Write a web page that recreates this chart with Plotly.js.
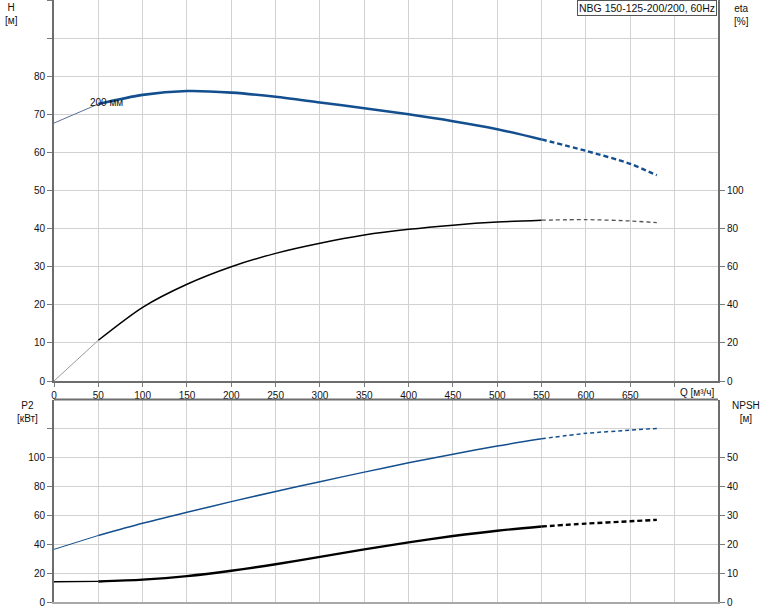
<!DOCTYPE html>
<html>
<head>
<meta charset="utf-8">
<script src="https://cdn.plot.ly/plotly-3.0.1.min.js"></script>
<style>html,body{margin:0;padding:0;background:#fff;}#chart{width:774px;height:611px;}</style>
</head>
<body>
<div id="chart"></div>
<script>
// ---- data ----
const Q     = [0, 50, 100, 150, 200, 250, 300, 350, 400, 450, 500, 550, 600, 650, 680];
const H     = [67.7, 72.7, 75.1, 76.1, 75.7, 74.6, 73.1, 71.6, 70.0, 68.2, 66.1, 63.4, 60.4, 57.0, 54.0];
const ETA   = [0, 21.4, 38.7, 50.8, 60.0, 67.0, 72.3, 76.6, 79.6, 81.8, 83.4, 84.4, 84.7, 84.0, 83.1];
const P2    = [14.0, 14.2, 15.5, 17.9, 21.6, 26.1, 31.2, 36.4, 41.2, 45.6, 49.3, 52.2, 54.2, 55.8, 56.8];
const NPSH  = [18.2, 23.0, 27.2, 31.0, 34.7, 38.2, 41.6, 44.9, 48.1, 51.1, 53.9, 56.4, 58.3, 59.4, 60.0];
const xTickVals = [0, 50, 100, 150, 200, 250, 300, 350, 400, 450, 500, 550, 600, 650, 700];
const xTickText = ["0", "50", "100", "150", "200", "250", "300", "350", "400", "450", "500", "550", "600", "650", ""];
const hTickVals = [0, 10, 20, 30, 40, 50, 60, 70, 80, 90, 100];
const hTickText = ["0", "10", "20", "30", "40", "50", "60", "70", "80", "", ""];
const etaTickVals = [0, 20, 40, 60, 80, 100];
const p2TickVals = [0, 20, 40, 60, 80, 100, 120];
const p2TickText = ["0", "20", "40", "60", "80", "100", ""];
const npshTickVals = [0, 10, 20, 30, 40, 50];
const curveLabel = "200 мм";
const chartTitle = "NBG 150-125-200/200, 60Hz";

// ---- helpers ----
function seg(ys, lo, hi) {
  const xs = [], vs = [];
  Q.forEach((q, i) => { if (q >= lo && q <= hi) { xs.push(q); vs.push(ys[i]); } });
  return {x: xs, y: vs};
}
const L = 54, R = 56, T = 0, B = 9, W = 774 - L - R, PH = 611 - T - B;
const px = x => (x - L) / W;
const py = y => (PH + T - y) / PH;

const blue = "#134f8e", grid = "#d2d2d2", axis = "#7a7a7a";
const font = {family: "Liberation Sans, Arial, sans-serif", size: 10, color: "#111"};

function tr(ys, lo, hi, xa, ya, color, width, dash) {
  const s = seg(ys, lo, hi);
  return {x: s.x, y: s.y, xaxis: xa, yaxis: ya, type: "scatter", mode: "lines",
    line: {color: color, width: width, dash: dash || "solid", shape: "spline", smoothing: 0.8},
    hoverinfo: "skip", showlegend: false};
}

const data = [
  tr(H, 0, 50, "x", "y", "#5a6f95", 1),
  tr(H, 50, 550, "x", "y", blue, 2.6),
  tr(H, 550, 680, "x", "y", blue, 2.4, "5px,3px"),
  tr(ETA, 0, 50, "x", "y2", "#999", 1),
  tr(ETA, 50, 550, "x", "y2", "#000", 1.5),
  tr(ETA, 550, 680, "x", "y2", "#555", 1.3, "4px,3px"),
  tr(P2, 0, 50, "x2", "y3", "#000", 1.3),
  tr(P2, 50, 550, "x2", "y3", "#000", 2.4),
  tr(P2, 550, 680, "x2", "y3", "#000", 2.4, "5px,3px"),
  tr(NPSH, 0, 50, "x2", "y4", blue, 1),
  tr(NPSH, 50, 550, "x2", "y4", blue, 1.5),
  tr(NPSH, 550, 680, "x2", "y4", blue, 1.5, "4px,3px")
];

const topDom = [py(381), 1];
const botDom = [0, py(399.5)];

const xCommon = {range: [0, 749], tickvals: xTickVals, showgrid: true, gridcolor: grid, gridwidth: 1,
  zeroline: false, showline: true, ticks: "outside", ticklen: 4, tickcolor: axis, fixedrange: true};

const layout = {
  width: 774, height: 611,
  margin: {l: L, r: R, t: T, b: B, pad: 0},
  paper_bgcolor: "#fff", plot_bgcolor: "#fff",
  font: font, showlegend: false,
  xaxis: Object.assign({}, xCommon, {anchor: "y", domain: [0, 1], ticktext: xTickText,
    linecolor: "#6d6d6d", linewidth: 2, tickfont: font}),
  xaxis2: Object.assign({}, xCommon, {anchor: "y3", domain: [0, 1], showticklabels: false,
    linecolor: "#a8a8a8", linewidth: 2, ticks: "", mirror: false}),
  yaxis: {domain: topDom, anchor: "x", range: [0, 100], tickvals: hTickVals, ticktext: hTickText,
    showgrid: true, gridcolor: grid, zeroline: false, showline: true, linecolor: "#6d6d6d", linewidth: 2,
    ticks: "outside", ticklen: 5, tickcolor: axis, tickfont: font, fixedrange: true},
  yaxis2: {domain: topDom, anchor: "x", overlaying: "y", side: "right", range: [0, 200],
    tickvals: etaTickVals, showgrid: false, zeroline: false, showline: true, linecolor: "#6d6d6d", linewidth: 2,
    ticks: "outside", ticklen: 5, tickcolor: axis, tickfont: font, fixedrange: true},
  yaxis3: {domain: botDom, anchor: "x2", range: [0, 140], tickvals: p2TickVals, ticktext: p2TickText,
    showgrid: true, gridcolor: grid, zeroline: false, showline: true, linecolor: "#6d6d6d", linewidth: 2,
    ticks: "outside", ticklen: 5, tickcolor: axis, tickfont: font, fixedrange: true},
  yaxis4: {domain: botDom, anchor: "x2", overlaying: "y3", side: "right", range: [0, 70],
    tickvals: npshTickVals, showgrid: false, zeroline: false, showline: true, linecolor: "#6d6d6d", linewidth: 2,
    ticks: "outside", ticklen: 5, tickcolor: axis, tickfont: font, fixedrange: true},
  shapes: [
    {type: "line", xref: "paper", yref: "paper", x0: 0, x1: 1, y0: py(399.5), y1: py(399.5),
      line: {color: "#6d6d6d", width: 2}}
  ],
  annotations: [
    {xref: "paper", yref: "paper", x: px(11), y: py(0), xanchor: "center", yanchor: "top",
      text: "H<br>[м]", showarrow: false, font: font},
    {xref: "paper", yref: "paper", x: px(741), y: py(1), xanchor: "center", yanchor: "top",
      text: "eta<br>[%]", showarrow: false, font: font},
    {xref: "paper", yref: "paper", x: px(27), y: py(398), xanchor: "center", yanchor: "top",
      text: "P2<br>[кВт]", showarrow: false, font: font},
    {xref: "paper", yref: "paper", x: px(746), y: py(398), xanchor: "center", yanchor: "top",
      text: "NPSH<br>[м]", showarrow: false, font: font},
    {xref: "paper", yref: "paper", x: px(678), y: py(392), xanchor: "left", yanchor: "middle",
      text: "Q [м³/ч]", showarrow: false, font: font},
    {xref: "paper", yref: "paper", x: px(88), y: py(102), xanchor: "left", yanchor: "middle",
      text: curveLabel, showarrow: false, font: font},
    {xref: "paper", yref: "paper", x: px(717), y: py(0), xanchor: "right", yanchor: "top",
      text: chartTitle, showarrow: false, font: Object.assign({}, font, {size: 10.5}), bgcolor: "#fff",
      bordercolor: "#555", borderwidth: 1, borderpad: 1}
  ]
};

Plotly.newPlot("chart", data, layout, {displayModeBar: false, staticPlot: true});
</script>
</body>
</html>
